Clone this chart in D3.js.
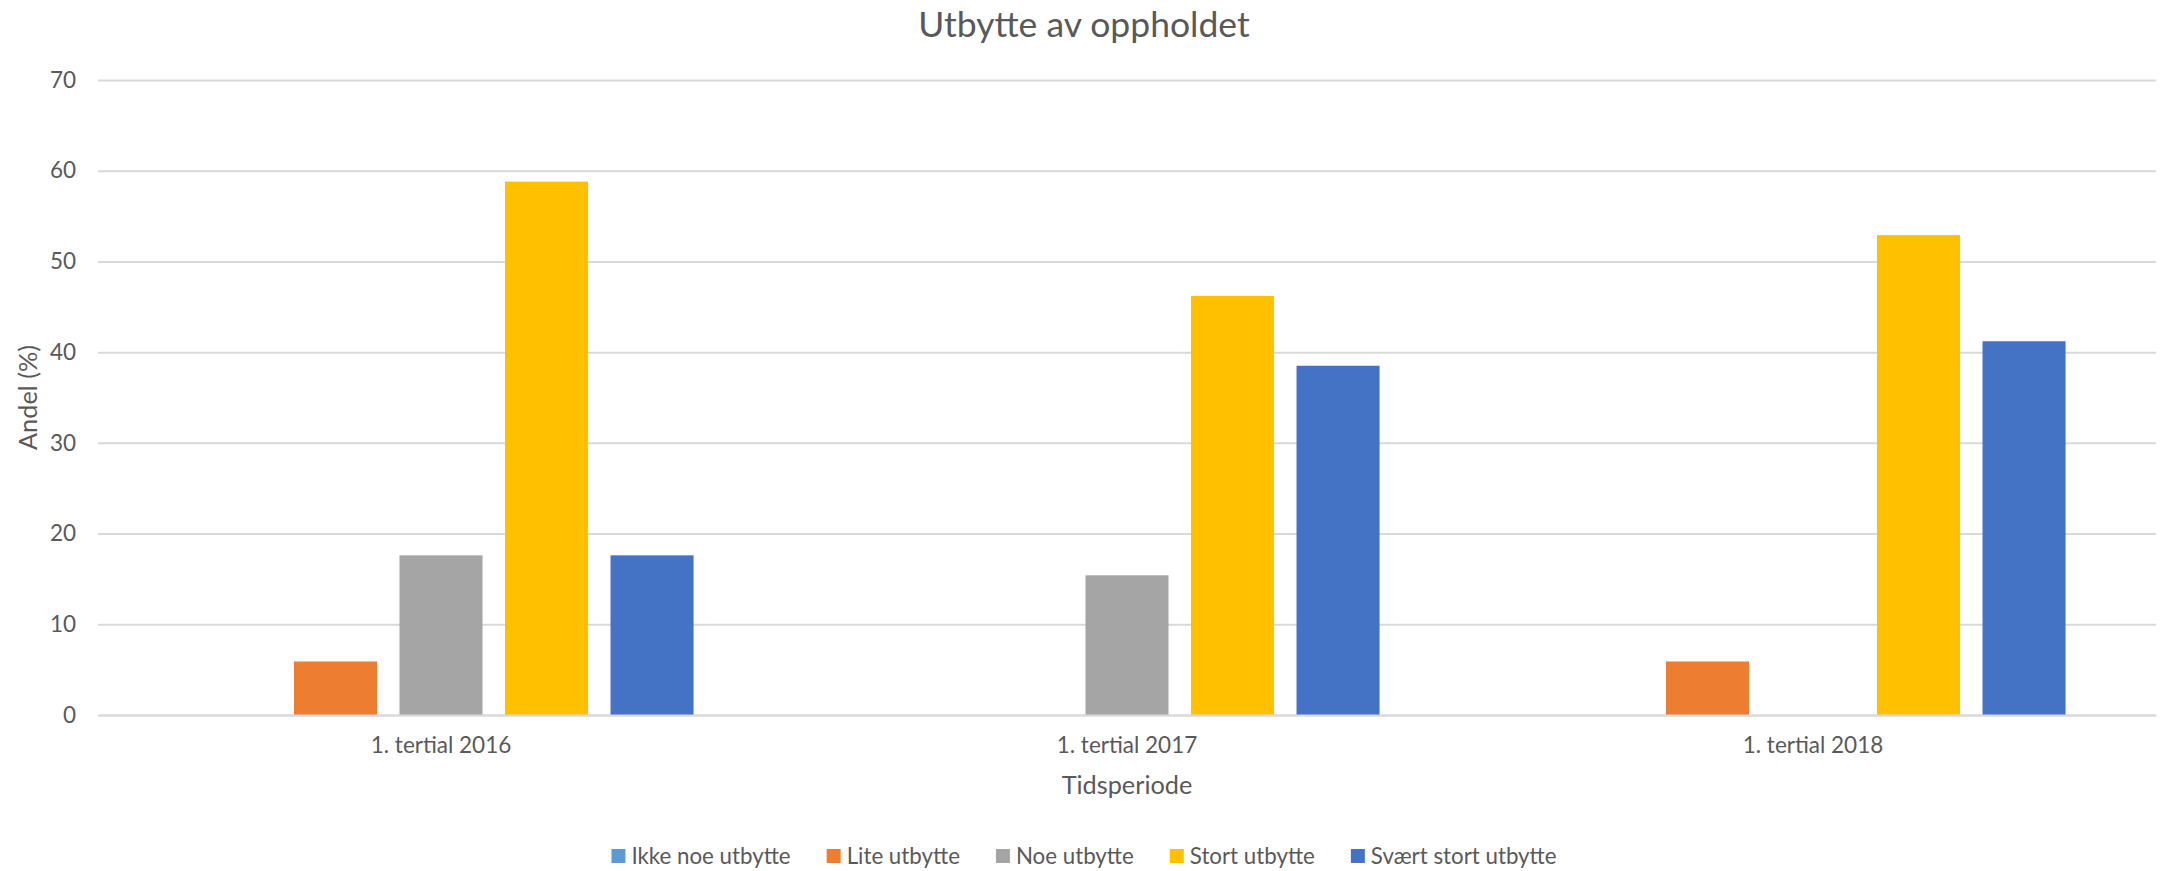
<!DOCTYPE html>
<html>
<head>
  <meta charset="utf-8">
  <title>Utbytte av oppholdet</title>
  <script src="https://d3js.org/d3.v7.min.js"></script>
  <style>
    body { margin: 0; background: #fff; }
    text { font-family: Lato, sans-serif; fill: #595959; }
  </style>
</head>
<body>
  <svg width="2168" height="871" id="mainsvg"></svg>
  <script>
    const periods = ['1. tertial 2016', '1. tertial 2017', '1. tertial 2018'];
    const seriesNames = ['Ikke noe utbytte', 'Lite utbytte', 'Noe utbytte', 'Stort utbytte', 'Svært stort utbytte'];
    const seriesColors = ['#5B9BD5', '#ED7D31', '#A5A5A5', '#FFC000', '#4472C4'];
    // andel (%) per periode
    const ikkeNoe = [0, 0, 0];
    const lite = [5.9, 0, 5.9];
    const noe = [17.6, 15.4, 0];
    const stort = [58.8, 46.2, 52.9];
    const svaertStort = [17.6, 38.5, 41.2];
    const yTicks = [0, 10, 20, 30, 40, 50, 60, 70];

    const seriesValues = [ikkeNoe, lite, noe, stort, svaertStort];

    let svg = d3.select('#mainsvg');
    const width = +svg.attr('width'), height = +svg.attr('height');
    const margin = {top: 80, right: 12, bottom: 156, left: 98};
    const innerW = width - margin.left - margin.right;
    const innerH = height - margin.top - margin.bottom;

    const g = svg.append('g').attr('transform', `translate(${margin.left},${margin.top})`);

    const x0 = d3.scaleBand().domain(periods).range([0, innerW]);
    const x1 = d3.scaleBand().domain(seriesNames).range([0, x0.bandwidth()])
      .paddingInner(0.213).paddingOuter(0.857);
    const y = d3.scaleLinear().domain([0, 70]).range([innerH, 0]);
    const color = d3.scaleOrdinal().domain(seriesNames).range(seriesColors);

    // grid + y labels
    const yAxis = g.append('g')
      .call(d3.axisLeft(y).tickValues(yTicks).tickSize(-innerW).tickPadding(22));
    yAxis.select('.domain').remove();
    yAxis.selectAll('line').attr('stroke', '#D9D9D9').attr('stroke-width', 2);
    yAxis.selectAll('text').style('font-size', '22.5px').attr('fill', '#595959');

    // bars
    const rows = periods.map((p, i) => ({
      period: p,
      vals: seriesNames.map((s, j) => ({series: s, value: seriesValues[j][i]}))
    }));

    g.selectAll('.grp').data(rows).enter().append('g')
      .attr('class', 'grp')
      .attr('transform', d => `translate(${x0(d.period)},0)`)
      .selectAll('rect').data(d => d.vals).enter().append('rect')
      .attr('x', d => x1(d.series))
      .attr('width', x1.bandwidth())
      .attr('y', d => y(d.value))
      .attr('height', d => innerH - y(d.value))
      .attr('fill', d => color(d.series));

    // x axis
    const xAxis = g.append('g')
      .attr('transform', `translate(0,${innerH})`)
      .call(d3.axisBottom(x0).tickSize(0).tickPadding(22));
    xAxis.select('.domain').attr('stroke', '#D9D9D9').attr('stroke-width', 2);
    xAxis.selectAll('text').style('font-size', '22.5px').attr('fill', '#595959');

    // title and axis titles
    svg.append('text')
      .attr('x', 1084).attr('y', 37)
      .attr('text-anchor', 'middle')
      .style('font-size', '35.5px')
      .text('Utbytte av oppholdet');

    svg.append('text')
      .attr('x', margin.left + innerW / 2).attr('y', 794)
      .attr('text-anchor', 'middle')
      .style('font-size', '25.3px')
      .text('Tidsperiode');

    svg.append('text')
      .attr('transform', `translate(37,${margin.top + innerH / 2}) rotate(-90)`)
      .attr('text-anchor', 'middle')
      .style('font-size', '25.3px')
      .text('Andel (%)');

    // legend
    const legend = svg.append('g');
    let lx = 0;
    seriesNames.forEach(s => {
      const item = legend.append('g').attr('transform', `translate(${lx},0)`);
      item.append('rect')
        .attr('x', 0).attr('y', -15)
        .attr('width', 14).attr('height', 14)
        .attr('fill', color(s));
      const t = item.append('text')
        .attr('x', 20).attr('y', 0)
        .style('font-size', '22.3px')
        .text(s);
      lx += 20 + t.node().getComputedTextLength() + 36;
    });
    const legendW = lx - 36;
    legend.attr('transform', `translate(${1084 - legendW / 2},864)`);
  </script>
</body>
</html>
